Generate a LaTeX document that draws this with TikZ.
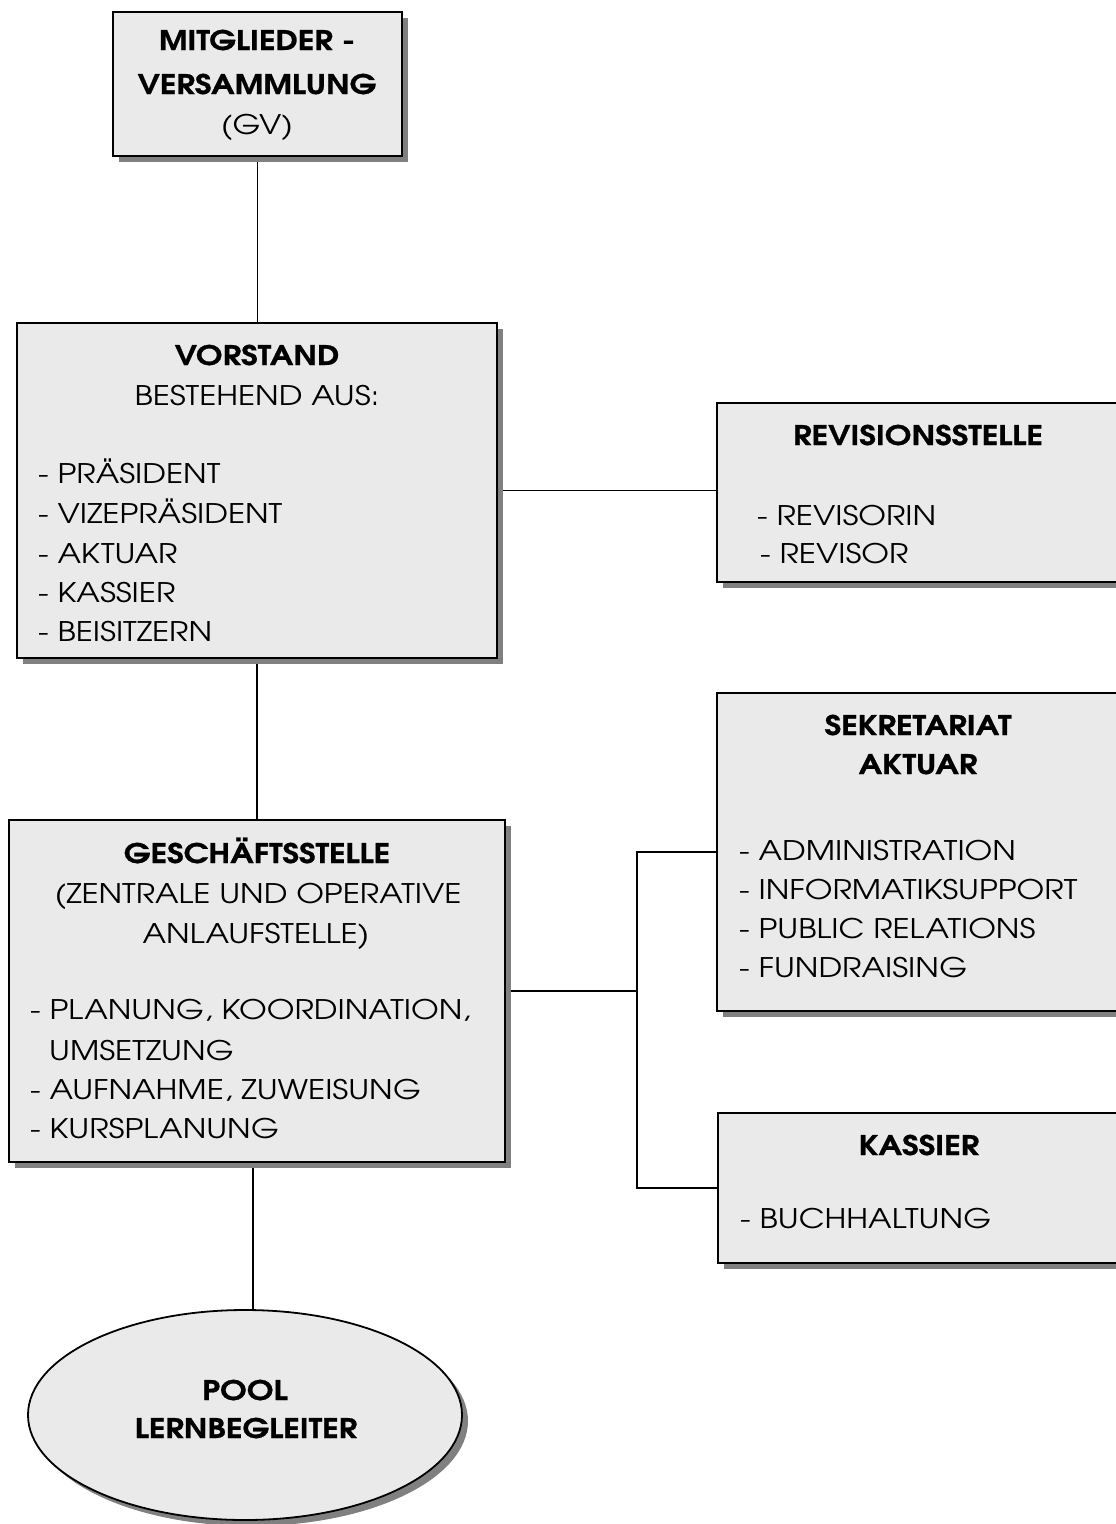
\documentclass[tikz,border=0pt]{standalone}
\usepackage{fontspec}
\setmainfont{TeX Gyre Adventor}[FakeStretch=1.18, BoldFeatures={FakeBold=0.8}]
\usetikzlibrary{shadows,shapes.geometric,backgrounds}
\definecolor{boxfill}{HTML}{EAEAEA}
\definecolor{shadowgray}{HTML}{808080}
\begin{document}
\begin{tikzpicture}[x=1pt,y=-1pt,
  box/.style={draw=black, line width=1.8pt, fill=boxfill, rectangle, inner sep=0pt,
    drop shadow={shadow xshift=6pt, shadow yshift=-6pt, fill=shadowgray, opacity=1}},
  oval/.style={draw=black, line width=1.8pt, fill=boxfill, ellipse, inner sep=0pt,
    drop shadow={shadow xshift=6pt, shadow yshift=-6pt, fill=shadowgray, opacity=1}},
  conn/.style={line width=1.8pt},
  hd/.style={font=\fontsize{27}{32}\selectfont\bfseries, anchor=base, inner sep=0pt},
  tx/.style={font=\fontsize{27}{32}\selectfont, anchor=base, inner sep=0pt},
  li/.style={font=\fontsize{27}{32}\selectfont, anchor=base west, inner sep=0pt}]
\useasboundingbox (0,0) rectangle (1116,1524);
\clip (0,0) rectangle (1116,1524);

% boxes
\node[box, minimum width=289pt, minimum height=144pt] (mv) at (257.5,84) {};
\node[box, minimum width=480pt, minimum height=335pt] (vs) at (257,490.5) {};
\node[box, minimum width=423pt, minimum height=179pt] (rev) at (928.5,492.5) {};
\node[box, minimum width=423pt, minimum height=318pt] (sek) at (928.5,852) {};
\node[box, minimum width=496pt, minimum height=342pt] (gs) at (257,991) {};
\node[box, minimum width=422pt, minimum height=150pt] (kas) at (929,1188) {};
\node[oval, minimum width=434pt, minimum height=210pt] (pool) at (245,1415) {};
\draw[black!8, line width=0.8pt] (77,1358) rectangle (413,1478);

% connectors
\coordinate (br) at (637,991);
\begin{scope}[on background layer]
\draw[conn] (mv.south) -- (mv.south |- vs.north);
\draw[conn] (vs.east) -- (vs.east -| rev.west);
\draw[conn] (vs.south) -- (vs.south |- gs.north);
\draw[conn] (gs.east) -- (br);
\draw[conn] (sek.west) -| (br) |- (kas.west);
\draw[conn] ([xshift=-4pt]gs.south) -- ([xshift=-4pt]gs.south |- pool.north);
\end{scope}

% texts
\node[hd] (mv1) at (257,50) {MITGLIEDER -};
\node[hd] (mv2) at (257,94) {VERSAMMLUNG};
\node[tx] (mv3) at (257,134) {(GV)};

\node[hd] (vs1) at (257,365) {VORSTAND};
\node[tx] (vs2) at (257,405) {BESTEHEND AUS:};
\node[li] (vs3) at (38,483) {- PRÄSIDENT};
\node[li] (vs4) at (38,523) {- VIZEPRÄSIDENT};
\node[li] (vs5) at (38,563) {- AKTUAR};
\node[li] (vs6) at (38,602) {- KASSIER};
\node[li] (vs7) at (38,641) {- BEISITZERN};

\node[hd] (rev1) at (918,445) {REVISIONSSTELLE};
\node[li] (rev2) at (757,525) {- REVISORIN};
\node[li] (rev3) at (760,563) {- REVISOR};

\node[hd] (sek1) at (918,735) {SEKRETARIAT};
\node[hd] (sek2) at (918,774) {AKTUAR};
\node[li] (sek3) at (739,860) {- ADMINISTRATION};
\node[li] (sek4) at (739,899) {- INFORMATIKSUPPORT};
\node[li] (sek5) at (739,938) {- PUBLIC RELATIONS};
\node[li] (sek6) at (739,977) {- FUNDRAISING};

\node[hd] (gs1) at (257,863) {GESCHÄFTSSTELLE};
\node[tx] (gs2) at (258,903) {(ZENTRALE UND OPERATIVE};
\node[tx] (gs3) at (256,943) {ANLAUFSTELLE)};
\node[li] (gs4) at (30,1019) {- PLANUNG, KOORDINATION,};
\node[li] (gs5) at (49,1060) {UMSETZUNG};
\node[li] (gs6) at (30,1099) {- AUFNAHME, ZUWEISUNG};
\node[li] (gs7) at (30,1138) {- KURSPLANUNG};

\node[hd] (kas1) at (919,1155) {KASSIER};
\node[li] (kas2) at (740,1228) {- BUCHHALTUNG};

\node[hd] (pool1) at (245,1400) {POOL};
\node[hd] (pool2) at (246,1438) {LERNBEGLEITER};
\end{tikzpicture}
\end{document}
